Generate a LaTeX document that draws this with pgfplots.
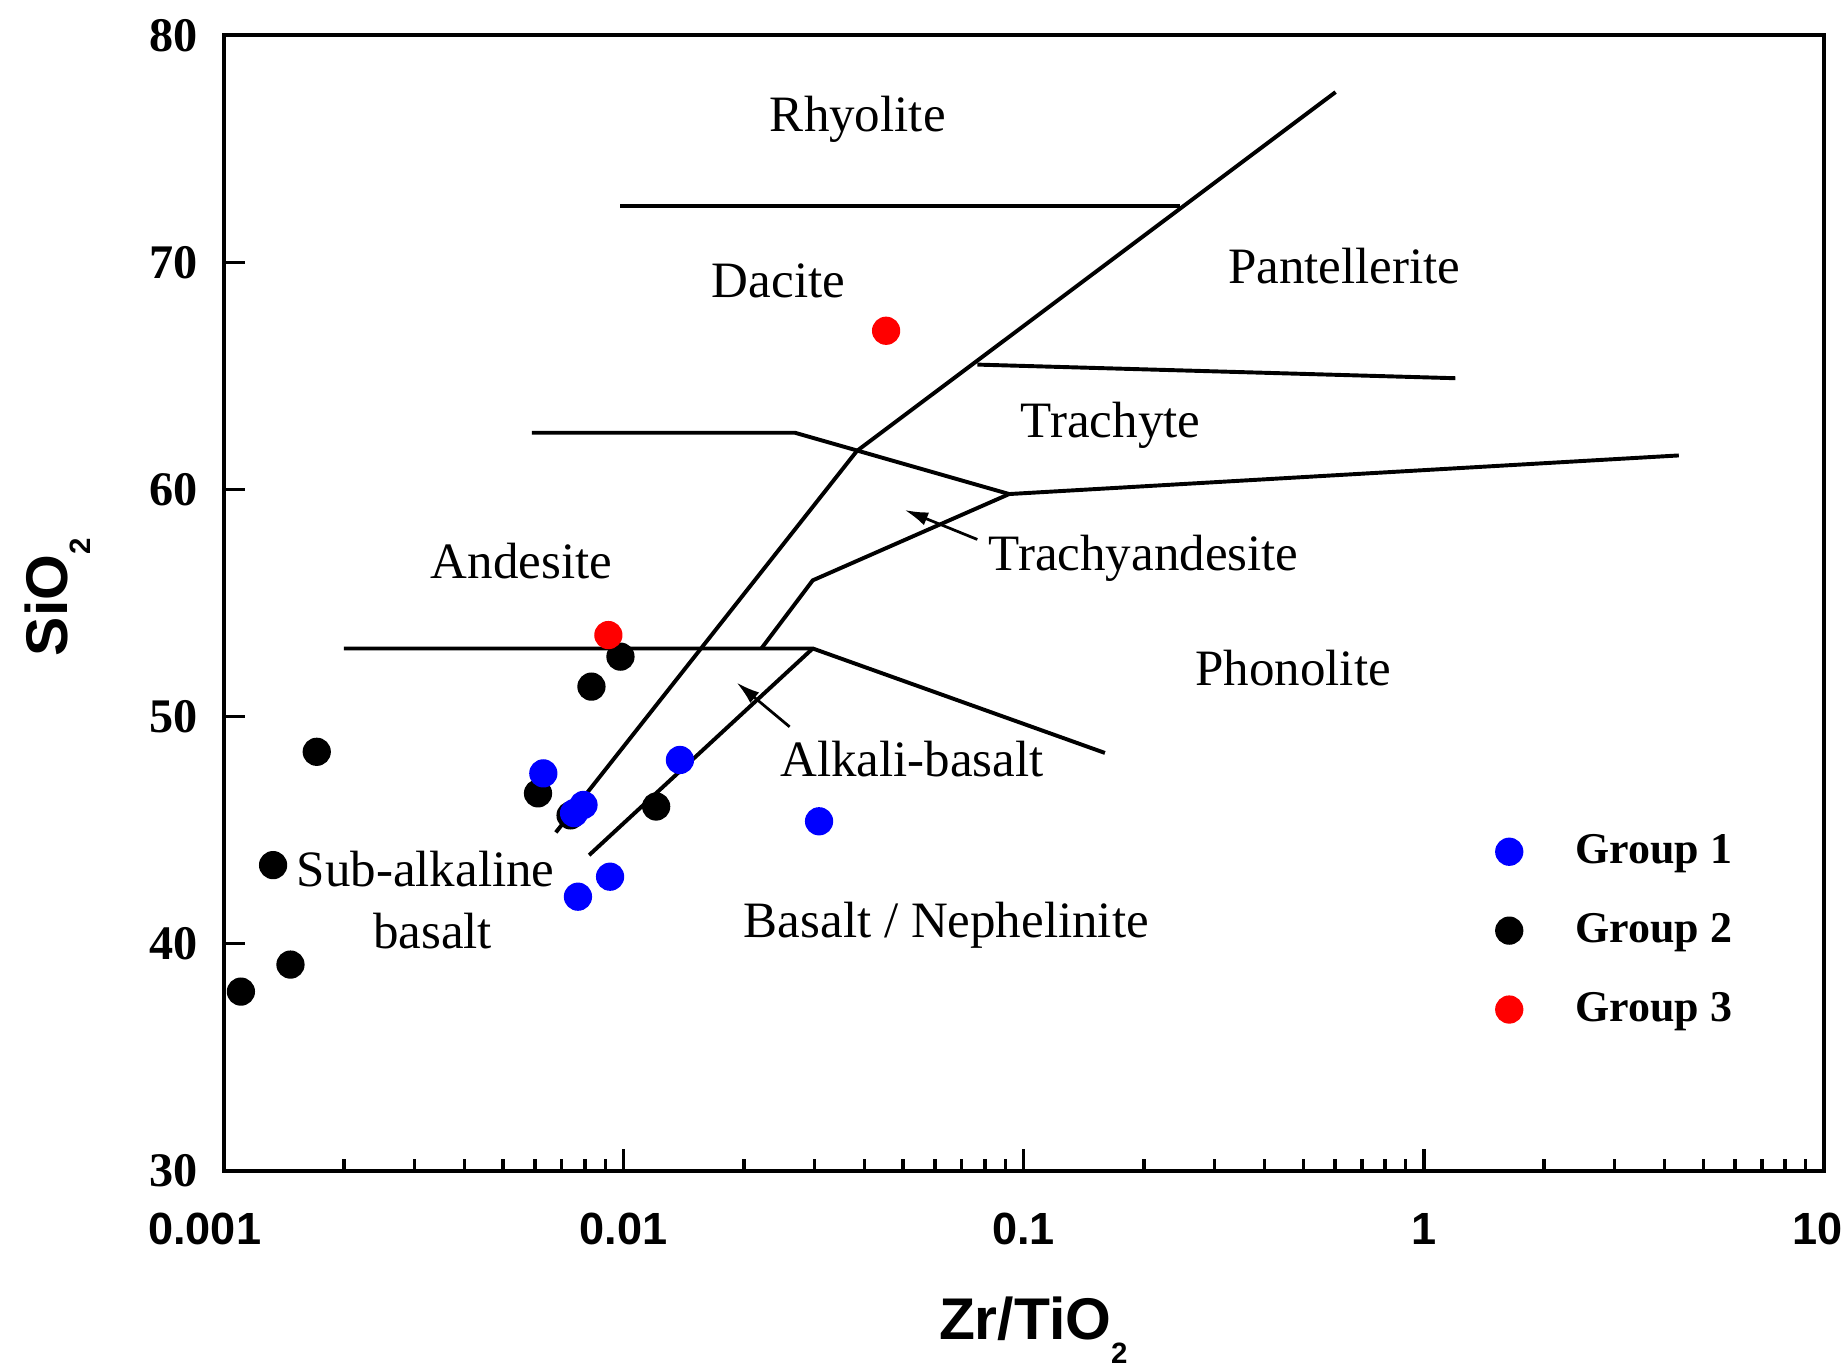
\documentclass[border=0pt]{standalone}
\usepackage{pgfplots}
\pgfplotsset{compat=1.18}
\usetikzlibrary{arrows.meta}
\usepackage{fontspec}
\setmainfont{Liberation Serif}
\setsansfont{Liberation Sans}

% region names inside the diagram
\newcommand\regionfont{\fontsize{13}{13}\selectfont}
% lowered subscript used in the axis titles
\newcommand\lowsub[1]{{\fontsize{7.5}{7.5}\selectfont\raisebox{-6pt}{#1}}}

\begin{document}
\begin{tikzpicture}
\begin{semilogxaxis}[
  name=tas,
  scale only axis,
  width=408pt, height=289.5pt,
  xmin=0.001, xmax=10, ymin=30, ymax=80,
  clip=false,
  axis line style={line width=1pt},
  tick pos=left,
  tick align=inside,
  major tick length=5.5pt,
  minor tick length=3pt,
  every tick/.style={black, line width=0.9pt},
  xtick={0.001,0.01,0.1,1,10},
  xticklabels={\hspace*{-9.6pt}0.001,0.01,0.1,1,\hspace*{-3pt}10},
  minor xtick={0.002,0.003,0.004,0.005,0.006,0.007,0.008,0.009,
               0.02,0.03,0.04,0.05,0.06,0.07,0.08,0.09,
               0.2,0.3,0.4,0.5,0.6,0.7,0.8,0.9,
               2,3,4,5,6,7,8,9},
  ytick={30,40,50,60,70,80},
  /pgf/number format/assume math mode=true,
  x tick label style={font=\sffamily\bfseries\fontsize{11.5}{11.5}\selectfont, yshift=-7.3pt},
  y tick label style={font=\bfseries\fontsize{12.3}{12.3}\selectfont, xshift=-3.1pt},
  xlabel={Zr/TiO\lowsub{2}},
  ylabel={SiO\lowsub{2}},
  xlabel style={font=\sffamily\bfseries\fontsize{15}{15}\selectfont,
                at={(axis description cs:0.506,-0.149)}, anchor=base},
  ylabel style={font=\sffamily\bfseries\fontsize{15}{15}\selectfont,
                at={(axis description cs:-0.0978,0.505)}, anchor=base},
  legend style={draw=none, fill=none, at={(0.7946,0.2115)}, anchor=west,
                font=\bfseries\fontsize{11.2}{11.2}\selectfont,
                row sep=11.2pt, inner sep=0pt, nodes={inner sep=0pt},
                /tikz/every odd column/.append style={column sep=13.5pt}},
  legend cell align=left,
  boundary/.style={black, line width=1pt, forget plot},
  pointer/.style={black, line width=0.7pt, -{Latex[length=6pt,width=3.5pt]}, forget plot},
]

% field boundaries
\addplot[boundary] coordinates {(0.0098,72.5) (0.246,72.5)};
\addplot[boundary] coordinates {(0.00677,44.9) (0.0383,61.7) (0.602,77.5)};
\addplot[boundary] coordinates {(0.0082,43.9) (0.0297,53)};
\addplot[boundary] coordinates {(0.002,53) (0.0297,53) (0.1596,48.4)};
\addplot[boundary] coordinates {(0.0221,53) (0.0297,56) (0.092,59.8) (4.34,61.5)};
\addplot[boundary] coordinates {(0.0059,62.5) (0.0268,62.5) (0.092,59.8)};
\addplot[boundary] coordinates {(0.0766,65.5) (1.2,64.9)};

% pointers to the narrow fields
\addplot[pointer] coordinates {(0.0766,57.8) (0.0504,59.1)};
\addplot[pointer] coordinates {(0.026,49.55) (0.01916,51.5)};

% field names
\node[font=\regionfont, anchor=base] at (axis cs:0.0385,75.75) {Rhyolite};
\node[font=\regionfont, anchor=base] at (axis cs:0.02438,68.45) {Dacite};
\node[font=\regionfont, anchor=base] at (axis cs:0.633,69.07) {Pantellerite};
\node[font=\regionfont, anchor=base] at (axis cs:0.165,62.28) {Trachyte};
\node[font=\regionfont, anchor=base] at (axis cs:0.1995,56.42) {Trachyandesite};
\node[font=\regionfont, anchor=base] at (axis cs:0.00556,56.09) {Andesite};
\node[font=\regionfont, anchor=base] at (axis cs:0.4716,51.35) {Phonolite};
\node[font=\regionfont, anchor=base] at (axis cs:0.0526,47.36) {Alkali-basalt};
\node[font=\regionfont, anchor=base] at (axis cs:0.0032,42.54) {Sub-alkaline};
\node[font=\regionfont, anchor=base] at (axis cs:0.00333,39.79) {basalt};
\node[font=\regionfont, anchor=base] at (axis cs:0.0641,40.28) {Basalt / Nephelinite};

% samples
\addplot[only marks, mark=*, mark size=3.4pt, black, forget plot] coordinates {
  (0.001105,37.89) (0.00147,39.08) (0.00133,43.46) (0.00171,48.45)
  (0.00611,46.62) (0.00737,45.65) (0.00831,51.32) (0.00982,52.64) (0.01206,46.04)};
\addplot[only marks, mark=*, mark size=3.4pt, color={rgb,255:red,0;green,0;blue,255}] coordinates {
  (0.0063,47.5) (0.00752,45.75) (0.00794,46.11) (0.01383,48.09)
  (0.0308,45.39) (0.00925,42.95) (0.00769,42.07)};
\addlegendentry{Group 1}
\addlegendimage{only marks, mark=*, mark size=3.4pt, black}
\addlegendentry{Group 2}
\addplot[only marks, mark=*, mark size=3.4pt, color={rgb,255:red,255;green,0;blue,0}] coordinates {
  (0.00916,53.59) (0.0453,66.99)};
\addlegendentry{Group 3}

\end{semilogxaxis}
\pgfresetboundingbox
\path ([shift={(-57pt,-50.1pt)}]tas.south west) rectangle ([shift={(5.4pt,9pt)}]tas.north east);
\end{tikzpicture}
\end{document}
